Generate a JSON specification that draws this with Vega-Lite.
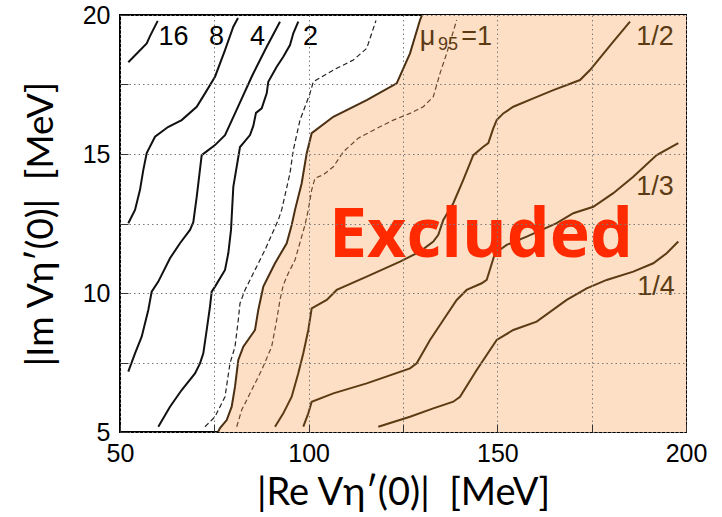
{
  "$schema": "https://vega.github.io/schema/vega-lite/v6.json",
  "width": 566,
  "height": 417,
  "autosize": {"type": "none"},
  "padding": {"left": 120, "top": 15, "right": 36, "bottom": 85},
  "background": "white",
  "config": {"view": {"stroke": "black", "strokeWidth": 2}},
  "datasets": {
    "boundary": [
      {"x": 75.97, "y": 5.0}, {"x": 76.5, "y": 5.14}, {"x": 78.28, "y": 5.43}, {"x": 79.6, "y": 5.91},
      {"x": 80.48, "y": 6.63}, {"x": 81.35, "y": 7.59}, {"x": 82.68, "y": 8.07}, {"x": 85.78, "y": 8.67},
      {"x": 86.65, "y": 9.39}, {"x": 87.98, "y": 10.23}, {"x": 91.08, "y": 11.07}, {"x": 94.18, "y": 11.79},
      {"x": 95.5, "y": 12.45}, {"x": 96.38, "y": 12.99}, {"x": 98.15, "y": 13.95}, {"x": 99.48, "y": 15.03},
      {"x": 100.8, "y": 15.75}, {"x": 106.53, "y": 16.34}, {"x": 115.38, "y": 16.94}, {"x": 123.33, "y": 17.54},
      {"x": 126.86, "y": 18.62}, {"x": 129.51, "y": 19.82}, {"x": 130.04, "y": 20.0}
    ],
    "curves": [
      {"series": "16", "i": 0, "x": 52.2, "y": 18.3}, {"series": "16", "i": 1, "x": 57.08, "y": 18.98},
      {"series": "16", "i": 2, "x": 57.95, "y": 19.24}, {"series": "16", "i": 3, "x": 59.99, "y": 19.79},

      {"series": "8", "i": 0, "x": 52.2, "y": 12.51}, {"series": "8", "i": 1, "x": 53.98, "y": 12.99},
      {"series": "8", "i": 2, "x": 55.3, "y": 13.71}, {"series": "8", "i": 3, "x": 56.17, "y": 14.42},
      {"series": "8", "i": 4, "x": 57.08, "y": 15.03}, {"series": "8", "i": 5, "x": 59.28, "y": 15.62},
      {"series": "8", "i": 6, "x": 62.72, "y": 15.97}, {"series": "8", "i": 7, "x": 66.35, "y": 16.22},
      {"series": "8", "i": 8, "x": 70.33, "y": 16.7}, {"series": "8", "i": 9, "x": 72.53, "y": 17.18},
      {"series": "8", "i": 10, "x": 75.18, "y": 17.78}, {"series": "8", "i": 11, "x": 77.83, "y": 18.74},
      {"series": "8", "i": 12, "x": 80.03, "y": 19.58}, {"series": "8", "i": 13, "x": 81.27, "y": 19.89},

      {"series": "4", "i": 0, "x": 52.2, "y": 7.17}, {"series": "4", "i": 1, "x": 53.98, "y": 7.83},
      {"series": "4", "i": 2, "x": 55.75, "y": 8.43}, {"series": "4", "i": 3, "x": 57.5, "y": 9.39},
      {"series": "4", "i": 4, "x": 58.4, "y": 10.05}, {"series": "4", "i": 5, "x": 60.15, "y": 10.41},
      {"series": "4", "i": 6, "x": 63.25, "y": 11.25}, {"series": "4", "i": 7, "x": 65.9, "y": 11.79},
      {"series": "4", "i": 8, "x": 68.55, "y": 12.27}, {"series": "4", "i": 9, "x": 69.43, "y": 12.55},
      {"series": "4", "i": 10, "x": 70.33, "y": 13.46}, {"series": "4", "i": 11, "x": 71.65, "y": 14.96},
      {"series": "4", "i": 12, "x": 75.18, "y": 15.32}, {"series": "4", "i": 13, "x": 77.83, "y": 15.68},
      {"series": "4", "i": 14, "x": 80.48, "y": 16.46}, {"series": "4", "i": 15, "x": 84.9, "y": 17.78},
      {"series": "4", "i": 16, "x": 88.88, "y": 18.86}, {"series": "4", "i": 17, "x": 92.4, "y": 19.76},

      {"series": "2", "i": 0, "x": 60.15, "y": 5.19}, {"series": "2", "i": 1, "x": 63.25, "y": 5.91},
      {"series": "2", "i": 2, "x": 66.35, "y": 6.51}, {"series": "2", "i": 3, "x": 69.88, "y": 7.11},
      {"series": "2", "i": 4, "x": 71.2, "y": 7.47}, {"series": "2", "i": 5, "x": 72.08, "y": 7.83},
      {"series": "2", "i": 6, "x": 72.98, "y": 8.67}, {"series": "2", "i": 7, "x": 73.85, "y": 9.51},
      {"series": "2", "i": 8, "x": 74.3, "y": 10.05}, {"series": "2", "i": 9, "x": 75.18, "y": 10.23},
      {"series": "2", "i": 10, "x": 77.83, "y": 10.83}, {"series": "2", "i": 11, "x": 78.7, "y": 11.43},
      {"series": "2", "i": 12, "x": 79.42, "y": 12.27}, {"series": "2", "i": 13, "x": 80.03, "y": 13.82},
      {"series": "2", "i": 14, "x": 81.8, "y": 15.25}, {"series": "2", "i": 15, "x": 82.68, "y": 15.39},
      {"series": "2", "i": 16, "x": 84.45, "y": 15.68}, {"series": "2", "i": 17, "x": 85.33, "y": 16.01},
      {"series": "2", "i": 18, "x": 86.04, "y": 16.48}, {"series": "2", "i": 19, "x": 87.55, "y": 16.64},
      {"series": "2", "i": 20, "x": 88.88, "y": 17.18}, {"series": "2", "i": 21, "x": 89.3, "y": 17.6},
      {"series": "2", "i": 22, "x": 91.53, "y": 18.14}, {"series": "2", "i": 23, "x": 93.28, "y": 18.5},
      {"series": "2", "i": 24, "x": 95.05, "y": 18.92}, {"series": "2", "i": 25, "x": 95.93, "y": 19.34},
      {"series": "2", "i": 26, "x": 97.25, "y": 19.76},

      {"series": "B", "i": 0, "x": 75.97, "y": 5.0}, {"series": "B", "i": 1, "x": 76.5, "y": 5.14},
      {"series": "B", "i": 2, "x": 78.28, "y": 5.43}, {"series": "B", "i": 3, "x": 79.6, "y": 5.91},
      {"series": "B", "i": 4, "x": 80.48, "y": 6.63}, {"series": "B", "i": 5, "x": 81.35, "y": 7.59},
      {"series": "B", "i": 6, "x": 82.68, "y": 8.07}, {"series": "B", "i": 7, "x": 85.78, "y": 8.67},
      {"series": "B", "i": 8, "x": 86.65, "y": 9.39}, {"series": "B", "i": 9, "x": 87.98, "y": 10.23},
      {"series": "B", "i": 10, "x": 91.08, "y": 11.07}, {"series": "B", "i": 11, "x": 94.18, "y": 11.79},
      {"series": "B", "i": 12, "x": 95.5, "y": 12.45}, {"series": "B", "i": 13, "x": 96.38, "y": 12.99},
      {"series": "B", "i": 14, "x": 98.15, "y": 13.95}, {"series": "B", "i": 15, "x": 99.48, "y": 15.03},
      {"series": "B", "i": 16, "x": 100.8, "y": 15.75}, {"series": "B", "i": 17, "x": 106.53, "y": 16.34},
      {"series": "B", "i": 18, "x": 115.38, "y": 16.94}, {"series": "B", "i": 19, "x": 123.33, "y": 17.54},
      {"series": "B", "i": 20, "x": 126.86, "y": 18.62}, {"series": "B", "i": 21, "x": 129.51, "y": 19.82},
      {"series": "B", "i": 22, "x": 130.04, "y": 20.0},

      {"series": "1/2", "i": 0, "x": 91.08, "y": 5.19}, {"series": "1/2", "i": 1, "x": 93.28, "y": 5.67},
      {"series": "1/2", "i": 2, "x": 95.5, "y": 6.27}, {"series": "1/2", "i": 3, "x": 97.25, "y": 7.11},
      {"series": "1/2", "i": 4, "x": 98.58, "y": 7.83}, {"series": "1/2", "i": 5, "x": 99.9, "y": 8.67},
      {"series": "1/2", "i": 6, "x": 100.8, "y": 9.45}, {"series": "1/2", "i": 7, "x": 104.78, "y": 9.75},
      {"series": "1/2", "i": 8, "x": 107.43, "y": 10.11}, {"series": "1/2", "i": 9, "x": 115.38, "y": 10.59},
      {"series": "1/2", "i": 10, "x": 124.21, "y": 11.13}, {"series": "1/2", "i": 11, "x": 129.51, "y": 11.49},
      {"series": "1/2", "i": 12, "x": 133.03, "y": 11.85}, {"series": "1/2", "i": 13, "x": 134.36, "y": 12.09},
      {"series": "1/2", "i": 14, "x": 135.68, "y": 12.63}, {"series": "1/2", "i": 15, "x": 138.33, "y": 13.23},
      {"series": "1/2", "i": 16, "x": 140.98, "y": 14.07}, {"series": "1/2", "i": 17, "x": 143.63, "y": 14.96},
      {"series": "1/2", "i": 18, "x": 146.28, "y": 15.26}, {"series": "1/2", "i": 19, "x": 147.61, "y": 15.39},
      {"series": "1/2", "i": 20, "x": 148.93, "y": 15.92}, {"series": "1/2", "i": 21, "x": 149.83, "y": 16.22},
      {"series": "1/2", "i": 22, "x": 151.58, "y": 16.46}, {"series": "1/2", "i": 23, "x": 154.23, "y": 16.7},
      {"series": "1/2", "i": 24, "x": 159.53, "y": 17.0}, {"series": "1/2", "i": 25, "x": 164.83, "y": 17.3},
      {"series": "1/2", "i": 26, "x": 171.91, "y": 17.66}, {"series": "1/2", "i": 27, "x": 174.56, "y": 18.02},
      {"series": "1/2", "i": 28, "x": 180.73, "y": 19.04}, {"series": "1/2", "i": 29, "x": 185.16, "y": 19.76},

      {"series": "1/3", "i": 0, "x": 98.58, "y": 5.19}, {"series": "1/3", "i": 1, "x": 99.9, "y": 5.67},
      {"series": "1/3", "i": 2, "x": 100.8, "y": 6.09}, {"series": "1/3", "i": 3, "x": 106.53, "y": 6.39},
      {"series": "1/3", "i": 4, "x": 115.38, "y": 6.75}, {"series": "1/3", "i": 5, "x": 126.86, "y": 7.29},
      {"series": "1/3", "i": 6, "x": 128.63, "y": 7.47}, {"series": "1/3", "i": 7, "x": 132.16, "y": 8.31},
      {"series": "1/3", "i": 8, "x": 135.68, "y": 9.03}, {"series": "1/3", "i": 9, "x": 139.23, "y": 9.75},
      {"series": "1/3", "i": 10, "x": 141.88, "y": 10.11}, {"series": "1/3", "i": 11, "x": 145.86, "y": 10.35},
      {"series": "1/3", "i": 12, "x": 147.18, "y": 10.47}, {"series": "1/3", "i": 13, "x": 149.38, "y": 11.43},
      {"series": "1/3", "i": 14, "x": 152.48, "y": 11.73}, {"series": "1/3", "i": 15, "x": 157.78, "y": 12.03},
      {"series": "1/3", "i": 16, "x": 165.73, "y": 12.51}, {"series": "1/3", "i": 17, "x": 170.13, "y": 12.87},
      {"series": "1/3", "i": 18, "x": 175.43, "y": 13.1}, {"series": "1/3", "i": 19, "x": 180.73, "y": 13.59},
      {"series": "1/3", "i": 20, "x": 186.03, "y": 14.18}, {"series": "1/3", "i": 21, "x": 192.23, "y": 14.96},
      {"series": "1/3", "i": 22, "x": 197.96, "y": 15.39},

      {"series": "1/4", "i": 0, "x": 118.45, "y": 5.19}, {"series": "1/4", "i": 1, "x": 126.86, "y": 5.55},
      {"series": "1/4", "i": 2, "x": 133.03, "y": 5.85}, {"series": "1/4", "i": 3, "x": 138.33, "y": 6.09},
      {"series": "1/4", "i": 4, "x": 140.11, "y": 6.27}, {"series": "1/4", "i": 5, "x": 144.53, "y": 7.23},
      {"series": "1/4", "i": 6, "x": 149.83, "y": 8.31}, {"series": "1/4", "i": 7, "x": 154.23, "y": 8.67},
      {"series": "1/4", "i": 8, "x": 160.43, "y": 8.97}, {"series": "1/4", "i": 9, "x": 168.38, "y": 9.75},
      {"series": "1/4", "i": 10, "x": 173.68, "y": 10.17}, {"series": "1/4", "i": 11, "x": 178.98, "y": 10.47},
      {"series": "1/4", "i": 12, "x": 186.03, "y": 10.77}, {"series": "1/4", "i": 13, "x": 191.33, "y": 11.07},
      {"series": "1/4", "i": 14, "x": 194.88, "y": 11.43}, {"series": "1/4", "i": 15, "x": 197.96, "y": 11.85}
    ],
    "dashed": [
      {"series": "D1", "i": 0, "x": 72.53, "y": 5.19}, {"series": "D1", "i": 1, "x": 75.18, "y": 5.55},
      {"series": "D1", "i": 2, "x": 77.83, "y": 6.27}, {"series": "D1", "i": 3, "x": 79.15, "y": 7.47},
      {"series": "D1", "i": 4, "x": 80.48, "y": 8.07}, {"series": "D1", "i": 5, "x": 81.35, "y": 9.03},
      {"series": "D1", "i": 6, "x": 81.8, "y": 9.63}, {"series": "D1", "i": 7, "x": 83.13, "y": 10.11},
      {"series": "D1", "i": 8, "x": 85.78, "y": 10.83}, {"series": "D1", "i": 9, "x": 88.43, "y": 11.55},
      {"series": "D1", "i": 10, "x": 91.95, "y": 12.63}, {"series": "D1", "i": 11, "x": 92.85, "y": 12.99},
      {"series": "D1", "i": 12, "x": 95.05, "y": 14.31}, {"series": "D1", "i": 13, "x": 95.93, "y": 15.14},
      {"series": "D1", "i": 14, "x": 97.7, "y": 16.22}, {"series": "D1", "i": 15, "x": 100.35, "y": 17.18},
      {"series": "D1", "i": 16, "x": 101.23, "y": 17.6}, {"series": "D1", "i": 17, "x": 106.53, "y": 18.02},
      {"series": "D1", "i": 18, "x": 111.83, "y": 18.38}, {"series": "D1", "i": 19, "x": 115.38, "y": 18.8},
      {"series": "D1", "i": 20, "x": 117.84, "y": 19.8},

      {"series": "D2", "i": 0, "x": 80.93, "y": 5.19}, {"series": "D2", "i": 1, "x": 82.25, "y": 5.79},
      {"series": "D2", "i": 2, "x": 84.9, "y": 6.51}, {"series": "D2", "i": 3, "x": 87.55, "y": 7.23},
      {"series": "D2", "i": 4, "x": 90.2, "y": 8.07}, {"series": "D2", "i": 5, "x": 91.53, "y": 9.03},
      {"series": "D2", "i": 6, "x": 92.4, "y": 9.75}, {"series": "D2", "i": 7, "x": 93.28, "y": 10.29},
      {"series": "D2", "i": 8, "x": 94.6, "y": 10.71}, {"series": "D2", "i": 9, "x": 96.38, "y": 11.19},
      {"series": "D2", "i": 10, "x": 98.15, "y": 12.03}, {"series": "D2", "i": 11, "x": 99.03, "y": 12.45},
      {"series": "D2", "i": 12, "x": 99.9, "y": 12.99}, {"series": "D2", "i": 13, "x": 100.8, "y": 13.71},
      {"series": "D2", "i": 14, "x": 101.68, "y": 14.13}, {"series": "D2", "i": 15, "x": 103.88, "y": 14.25},
      {"series": "D2", "i": 16, "x": 106.53, "y": 14.54}, {"series": "D2", "i": 17, "x": 109.18, "y": 15.08},
      {"series": "D2", "i": 18, "x": 113.15, "y": 15.57}, {"series": "D2", "i": 19, "x": 118.03, "y": 15.92},
      {"series": "D2", "i": 20, "x": 122.43, "y": 16.22}, {"series": "D2", "i": 21, "x": 126.86, "y": 16.46},
      {"series": "D2", "i": 22, "x": 130.38, "y": 16.7}, {"series": "D2", "i": 23, "x": 133.03, "y": 17.06},
      {"series": "D2", "i": 24, "x": 134.81, "y": 17.9}, {"series": "D2", "i": 25, "x": 136.58, "y": 18.62},
      {"series": "D2", "i": 26, "x": 139.23, "y": 19.82}
    ],
    "blackLabels": [
      {"text": "16", "x": 64.18, "y": 18.92}, {"text": "8", "x": 75.57, "y": 18.92},
      {"text": "4", "x": 86.44, "y": 18.92}, {"text": "2", "x": 100.49, "y": 18.92}
    ],
    "brownLabels": [
      {"text": "1/2", "x": 191.79, "y": 18.92}, {"text": "1/3", "x": 191.79, "y": 13.52},
      {"text": "1/4", "x": 192.05, "y": 9.93}, {"text": "μ", "x": 131.49, "y": 18.92},
      {"text": "=1", "x": 144.53, "y": 18.92}
    ],
    "subLabels": [
      {"text": "95", "x": 136.93, "y": 18.74}
    ],
    "bigLabel": [
      {"text": "Excluded", "x": 145.67, "y": 11.29}
    ]
  },
  "layer": [
    {
      "data": {"name": "boundary"},
      "mark": {"type": "area", "orient": "horizontal", "color": "#fddfc5", "clip": true},
      "encoding": {
        "y": {
          "field": "y", "type": "quantitative",
          "scale": {"domain": [5, 20], "nice": false, "zero": false},
          "axis": {
            "values": [5, 7.5, 10, 12.5, 15, 17.5, 20],
            "labelExpr": "datum.value % 5 === 0 ? datum.label : ''",
            "grid": true, "gridDash": [1.5, 3], "gridColor": "#7a7a7a", "gridWidth": 1,
            "tickSize": -8, "tickColor": "#333", "tickWidth": 1,
            "domain": false, "zindex": 1,
            "labelFont": "Liberation Sans", "labelFontSize": 25, "labelColor": "black",
            "labelPadding": 18, "labelOverlap": false, "labelFlush": false,
            "title": "|Im Vη′(0)|\u00a0\u00a0[MeV]",
            "titleFont": "Lato", "titleFontSize": 37, "titleFontWeight": "normal", "titleColor": "black",
            "titlePadding": 22
          }
        },
        "x": {
          "field": "x", "type": "quantitative",
          "scale": {"domain": [50, 200], "nice": false, "zero": false},
          "axis": {
            "values": [50, 75, 100, 125, 150, 175, 200],
            "labelExpr": "datum.value % 50 === 0 ? datum.label : ''",
            "grid": true, "gridDash": [1.5, 3], "gridColor": "#7a7a7a", "gridWidth": 1,
            "tickSize": -8, "tickColor": "#333", "tickWidth": 1,
            "domain": false, "zindex": 1,
            "labelFont": "Liberation Sans", "labelFontSize": 25, "labelColor": "black",
            "labelPadding": 17, "labelOverlap": false, "labelFlush": false,
            "title": "|Re Vη′(0)|\u00a0\u00a0[MeV]",
            "titleFont": "Lato", "titleFontSize": 38, "titleFontWeight": "normal", "titleColor": "black",
            "titlePadding": 8
          }
        },
        "x2": {"datum": 200}
      }
    },
    {
      "data": {"name": "curves"},
      "mark": {"type": "line", "strokeWidth": 2, "clip": true},
      "encoding": {
        "x": {"field": "x", "type": "quantitative", "scale": {"domain": [50, 200], "nice": false, "zero": false}},
        "y": {"field": "y", "type": "quantitative", "scale": {"domain": [5, 20], "nice": false, "zero": false}},
        "order": {"field": "i", "type": "quantitative"},
        "color": {
          "field": "series", "type": "nominal", "legend": null,
          "scale": {
            "domain": ["16", "8", "4", "2", "B", "1/2", "1/3", "1/4", "D1", "D2"],
            "range": ["#111111", "#111111", "#111111", "#111111", "#4a2f12", "#5c3b14", "#5c3b14", "#5c3b14", "#222222", "#6b4a2a"]
          }
        }
      }
    },
    {
      "data": {"name": "dashed"},
      "mark": {"type": "line", "strokeWidth": 1.2, "strokeDash": [5, 3], "clip": true},
      "encoding": {
        "x": {"field": "x", "type": "quantitative"},
        "y": {"field": "y", "type": "quantitative"},
        "order": {"field": "i", "type": "quantitative"},
        "color": {"field": "series", "type": "nominal", "legend": null}
      }
    },
    {
      "data": {"name": "blackLabels"},
      "mark": {"type": "text", "font": "Liberation Sans", "fontSize": 27, "color": "black", "align": "center", "baseline": "alphabetic"},
      "encoding": {
        "x": {"field": "x", "type": "quantitative"},
        "y": {"field": "y", "type": "quantitative"},
        "text": {"field": "text"}
      }
    },
    {
      "data": {"name": "brownLabels"},
      "mark": {"type": "text", "font": "Liberation Sans", "fontSize": 27, "color": "#5c3b14", "align": "center", "baseline": "alphabetic"},
      "encoding": {
        "x": {"field": "x", "type": "quantitative"},
        "y": {"field": "y", "type": "quantitative"},
        "text": {"field": "text"}
      }
    },
    {
      "data": {"name": "subLabels"},
      "mark": {"type": "text", "font": "Liberation Sans", "fontSize": 18, "color": "#5c3b14", "align": "center", "baseline": "alphabetic"},
      "encoding": {
        "x": {"field": "x", "type": "quantitative"},
        "y": {"field": "y", "type": "quantitative"},
        "text": {"field": "text"}
      }
    },
    {
      "data": {"name": "bigLabel"},
      "mark": {"type": "text", "font": "Open Sans", "fontWeight": "bold", "fontSize": 68, "color": "#ff2a00", "align": "center", "baseline": "alphabetic"},
      "encoding": {
        "x": {"field": "x", "type": "quantitative"},
        "y": {"field": "y", "type": "quantitative"},
        "text": {"field": "text"}
      }
    }
  ]
}
